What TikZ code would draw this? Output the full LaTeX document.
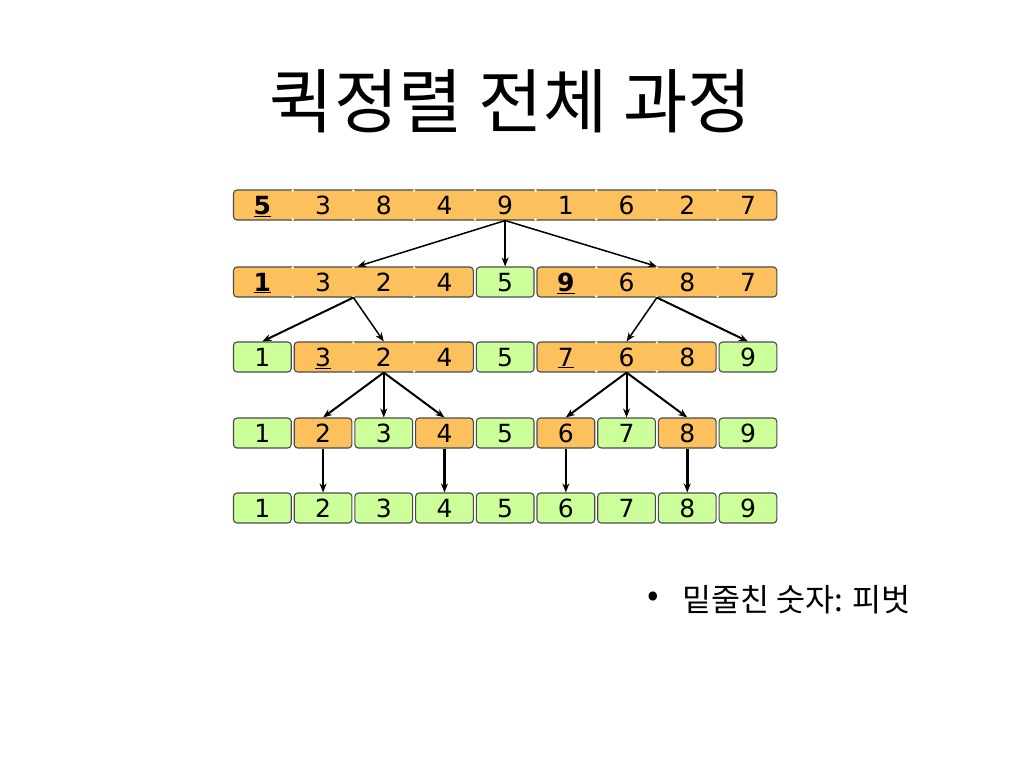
\documentclass[tikz,border=0pt]{standalone}
\usepackage{fontspec}
\setmainfont{DejaVu Sans}
\newfontfamily\kr{Noto Sans CJK KR}
\usetikzlibrary{arrows.meta}
\definecolor{org}{HTML}{FCC15C}
\definecolor{grn}{HTML}{CCFF99}
\definecolor{edgec}{HTML}{4A4A4A}
\newcommand\grp[5]{%
  \node[bar, fill=#5, minimum width={(#4-#3+1)*60.7pt-3pt}] (#1) at ({232+(#3+#4+1)*30.35}, #2) {};}
\begin{document}
\begin{tikzpicture}[x=1pt,y=-1pt,
  bar/.style={draw=edgec, line width=1.1pt, rounded corners=3.5pt, minimum height=30pt, inner sep=0pt},
  num/.style={font=\fontsize{25}{27}\selectfont, text=black, inner sep=0pt, anchor=base},
  arr/.style={-{Stealth[length=9pt,width=7pt]}, line width=2pt, black},
  tick/.style={white}]
\useasboundingbox (0,0) rectangle (1024,768);
\fill[white] (0,0) rectangle (1024,768);

% title
\node[font=\kr\fontsize{70}{72}\selectfont, inner sep=0pt] (title) at (511,101) {퀵정렬 전체 과정};

% row 1
\grp{g1}{205}{0}{8}{org}
% row 2
\grp{g2a}{282}{0}{3}{org}
\grp{g2b}{282}{4}{4}{grn}
\grp{g2c}{282}{5}{8}{org}
% row 3
\grp{g3a}{357}{0}{0}{grn}
\grp{g3b}{357}{1}{3}{org}
\grp{g3c}{357}{4}{4}{grn}
\grp{g3d}{357}{5}{7}{org}
\grp{g3e}{357}{8}{8}{grn}
% row 4
\foreach \i/\c in {0/grn,1/org,2/grn,3/org,4/grn,5/org,6/grn,7/org,8/grn}{
  \grp{g4_\i}{433}{\i}{\i}{\c}
}
% row 5
\foreach \i in {0,...,8}{
  \grp{g5_\i}{508}{\i}{\i}{grn}
}

% white joints on merged bars
\foreach \k in {1,...,8}{\fill[tick] ({232+\k*60.7},190.5) circle (1.3pt) ({232+\k*60.7},219.5) circle (1.3pt);}
\foreach \k in {1,2,3,6,7,8}{\fill[tick] ({232+\k*60.7},267.5) circle (1.3pt) ({232+\k*60.7},296.5) circle (1.3pt);}
\foreach \k in {2,3,6,7}{\fill[tick] ({232+\k*60.7},342.5) circle (1.3pt) ({232+\k*60.7},371.5) circle (1.3pt);}

% numbers (baseline placed 9pt below row centre)
\foreach \v [count=\i from 0] in {\underline{\textbf{5}},3,8,4,9,1,6,2,7}{
  \node[num] (n1_\i) at ({262.35+\i*60.7},214) {\v};}
\foreach \v [count=\i from 0] in {\underline{\textbf{1}},3,2,4,5,\underline{\textbf{9}},6,8,7}{
  \node[num] (n2_\i) at ({262.35+\i*60.7},291) {\v};}
\foreach \v [count=\i from 0] in {1,\underline{3},2,4,5,\underline{7},6,8,9}{
  \node[num] (n3_\i) at ({262.35+\i*60.7},366) {\v};}
\foreach \v [count=\i from 0] in {1,2,3,4,5,6,7,8,9}{
  \node[num] (n4_\i) at ({262.35+\i*60.7},442) {\v};}
\foreach \v [count=\i from 0] in {1,2,3,4,5,6,7,8,9}{
  \node[num] (n5_\i) at ({262.35+\i*60.7},517) {\v};}

% arrows
\draw[arr, line width=1.5pt] (g1.south) -- ([xshift=4pt]g2a.north);
\draw[arr] (g1.south) -- (g2b.north);
\draw[arr, line width=1.5pt] (g1.south) -- (g2c.north);
\draw[arr] (g2a.south) -- (g3a.north);
\draw[arr, line width=1.5pt] (g2a.south) -- (g3b.north);
\draw[arr, line width=1.5pt] (g2c.south) -- (g3d.north);
\draw[arr] (g2c.south) -- (g3e.north);
\foreach \j in {1,2,3}{\draw[arr] (g3b.south) -- (g4_\j.north);}
\foreach \j in {5,6,7}{\draw[arr] (g3d.south) -- (g4_\j.north);}
\draw[arr] (g4_1.south) -- (g5_1.north);
\draw[arr, line width=2.8pt] (g4_3.south) -- (g5_3.north);
\draw[arr] (g4_5.south) -- (g5_5.north);
\draw[arr, line width=2.5pt] (g4_7.south) -- (g5_7.north);

% bullet note
\node[font=\kr\fontsize{34}{36}\selectfont, inner sep=0pt] (bul) at (653,599) {•};
\node[font=\kr\fontsize{31.5}{33}\selectfont, inner sep=0pt, anchor=west] (note) at (682,600) {밑줄친 숫자: 피벗};
\end{tikzpicture}
\end{document}
